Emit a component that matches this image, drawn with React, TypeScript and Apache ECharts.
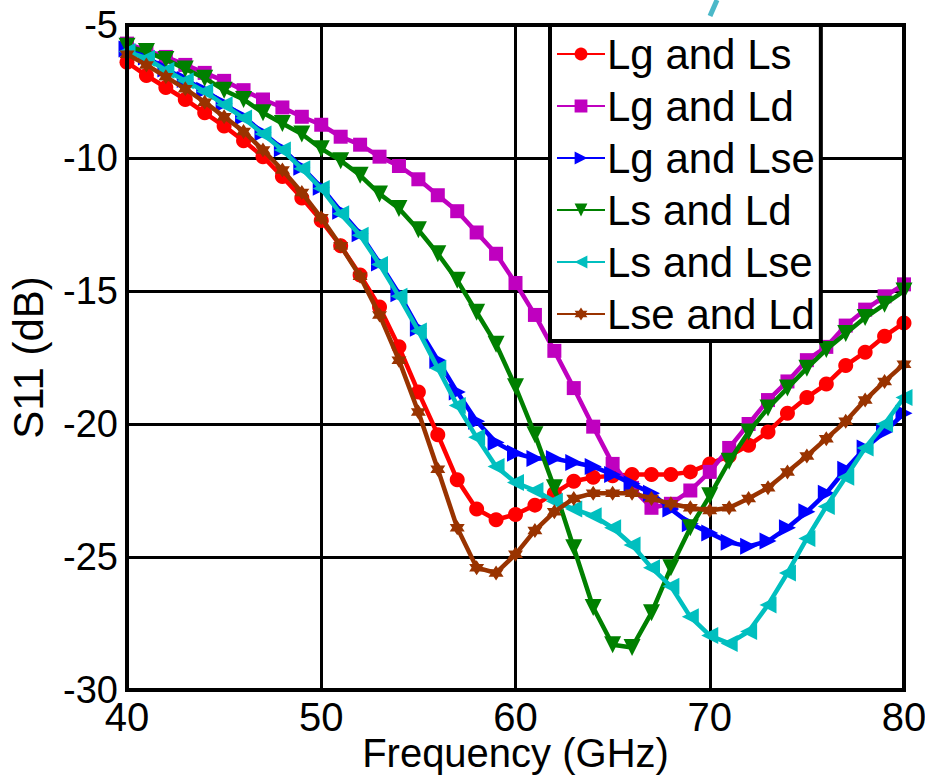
import React, { useEffect, useRef } from "react";
import * as echarts from "echarts";

const freqs: number[] = [];
for (let f = 40; f <= 80; f++) freqs.push(f);

const seriesNames = ["Lg and Ls", "Lg and Ld", "Lg and Lse", "Ls and Ld", "Ls and Lse", "Lse and Ld"];

const lgLs = [-6.4, -6.9, -7.35, -7.8, -8.3, -8.8, -9.35, -9.95, -10.7, -11.5, -12.35, -13.3, -14.4, -15.6, -17.1, -18.8, -20.4, -22.1, -23.2, -23.6, -23.4, -23.05, -22.6, -22.15, -22.0, -21.95, -21.9, -21.9, -21.9, -21.8, -21.5, -21.2, -20.8, -20.3, -19.6, -19.0, -18.5, -17.8, -17.3, -16.7, -16.2];
const lgLd = [-5.7, -5.95, -6.2, -6.5, -6.8, -7.1, -7.45, -7.8, -8.1, -8.45, -8.75, -9.2, -9.5, -9.95, -10.3, -10.8, -11.4, -12.0, -12.8, -13.6, -14.7, -15.9, -17.25, -18.65, -20.1, -21.5, -22.4, -23.15, -23.0, -22.5, -21.8, -20.9, -20.0, -19.1, -18.4, -17.6, -17.1, -16.3, -15.7, -15.2, -14.75];
const lgLse = [-5.9, -6.2, -6.65, -7.05, -7.45, -7.95, -8.45, -9.05, -9.65, -10.35, -11.1, -12.0, -12.85, -13.95, -15.1, -16.4, -17.6, -18.8, -19.9, -20.7, -21.1, -21.3, -21.3, -21.45, -21.6, -21.9, -22.25, -22.6, -23.2, -23.75, -24.1, -24.45, -24.6, -24.4, -23.9, -23.3, -22.6, -21.7, -20.9, -20.3, -19.6];
const lsLd = [-5.8, -6.0, -6.3, -6.65, -7.0, -7.45, -7.8, -8.3, -8.7, -9.1, -9.65, -10.1, -10.65, -11.35, -11.9, -12.7, -13.6, -14.6, -15.8, -17.0, -18.6, -20.4, -22.4, -24.65, -26.9, -28.3, -28.4, -27.1, -25.4, -23.9, -22.7, -21.4, -20.3, -19.4, -18.65, -17.9, -17.2, -16.6, -16.0, -15.5, -15.0];
const lsLse = [-6.0, -6.25, -6.7, -7.1, -7.5, -8.0, -8.5, -9.1, -9.7, -10.4, -11.15, -12.1, -12.9, -14.0, -15.2, -16.5, -17.9, -19.3, -20.5, -21.6, -22.2, -22.5, -22.9, -23.2, -23.45, -23.9, -24.55, -25.4, -26.1, -27.25, -27.95, -28.25, -27.8, -26.8, -25.6, -24.3, -23.1, -22.0, -20.9, -20.0, -19.0];
const lseLd = [-6.1, -6.5, -6.95, -7.4, -7.9, -8.45, -9.0, -9.7, -10.45, -11.3, -12.25, -13.3, -14.45, -15.9, -17.6, -19.55, -21.7, -23.9, -25.4, -25.6, -24.9, -24.0, -23.3, -22.8, -22.6, -22.6, -22.6, -22.8, -23.0, -23.15, -23.25, -23.15, -22.8, -22.4, -21.8, -21.2, -20.55, -19.9, -19.1, -18.4, -17.75];

const allValues = [lgLs, lgLd, lgLse, lsLd, lsLse, lseLd];
const colors = ["#ff0000", "#bf00bf", "#0000ff", "#008000", "#00bfbf", "#993300"];

const hexagram =
  "path://M0,-10 L2.9,-5 L8.66,-5 L5.8,0 L8.66,5 L2.9,5 L0,10 L-2.9,5 L-8.66,5 L-5.8,0 L-8.66,-5 L-2.9,-5 Z";
const symbols = ["circle", "rect", "triangle", "triangle", "triangle", hexagram];
const rotations = [0, 0, -90, 180, 90, 0];
const sizes = [15, 14, 17, 17, 17, 15];

const FONT = "'Liberation Sans', Arial, Helvetica, sans-serif";

export default function App() {
  const ref = useRef<HTMLDivElement>(null);
  useEffect(() => {
    if (!ref.current) return;
    const chart = echarts.init(ref.current, null, { renderer: "svg" });
    const series = seriesNames.map((name, i) => ({
      name,
      type: "line",
      data: freqs.map((f, j) => [f, allValues[i][j]]),
      symbol: symbols[i],
      symbolSize: sizes[i],
      symbolRotate: rotations[i],
      showSymbol: true,
      lineStyle: { color: colors[i], width: 4.5 },
      itemStyle: { color: colors[i] },
      z: 3 + i,
    }));
    chart.setOption({
      animation: false,
      backgroundColor: "#ffffff",
      textStyle: { fontFamily: FONT },
      grid: {
        left: 127,
        top: 25,
        right: 21,
        bottom: 90,
        show: true,
        borderColor: "#000",
        borderWidth: 4,
        backgroundColor: "transparent",
        outerBoundsMode: "none",
        containLabel: false,
        z: 10,
      },
      xAxis: {
        type: "value",
        min: 40,
        max: 80,
        interval: 10,
        name: "Frequency (GHz)",
        nameLocation: "middle",
        nameGap: 43,
        nameMoveOverlap: false,
        nameTextStyle: { fontSize: 40, color: "#000", fontFamily: FONT },
        axisLine: { show: false },
        axisTick: { show: false },
        axisLabel: { fontSize: 40, color: "#000", margin: 7, fontFamily: FONT },
        splitLine: { show: true, lineStyle: { color: "#000", width: 3 } },
      },
      yAxis: {
        type: "value",
        min: -30,
        max: -5,
        interval: 5,
        name: "S11 (dB)",
        nameLocation: "middle",
        nameGap: 78,
        nameMoveOverlap: false,
        nameTextStyle: { fontSize: 42, color: "#000", fontFamily: FONT },
        axisLine: { show: false },
        axisTick: { show: false },
        axisLabel: { fontSize: 38, color: "#000", margin: 9, fontFamily: FONT },
        splitLine: { show: true, lineStyle: { color: "#000", width: 3 } },
      },
      legend: {
        orient: "vertical",
        left: 550,
        top: 25,
        padding: [8, 6, 6, 6],
        itemWidth: 48,
        itemHeight: 16,
        itemGap: 10,
        backgroundColor: "#fff",
        borderColor: "#000",
        borderWidth: 4,
        borderRadius: 0,
        textStyle: { fontSize: 42, color: "#000", lineHeight: 42, padding: [0, 0, 0, -3], fontFamily: FONT },
        data: seriesNames,
        z: 20,
      },
      graphic: [
        {
          type: "line",
          shape: { x1: 717, y1: 0, x2: 710, y2: 16 },
          style: { stroke: "#4bb8c8", lineWidth: 5 },
        },
        {
          type: "text",
          left: -12,
          top: 695,
          style: { text: ")", fontSize: 40, fill: "#000", fontFamily: FONT },
        },
      ],
      series,
    });
    return () => chart.dispose();
  }, []);
  return (
    <div
      ref={ref}
      style={{ position: "fixed", left: 0, top: 0, width: 925, height: 780, background: "#fff" }}
    />
  );
}
